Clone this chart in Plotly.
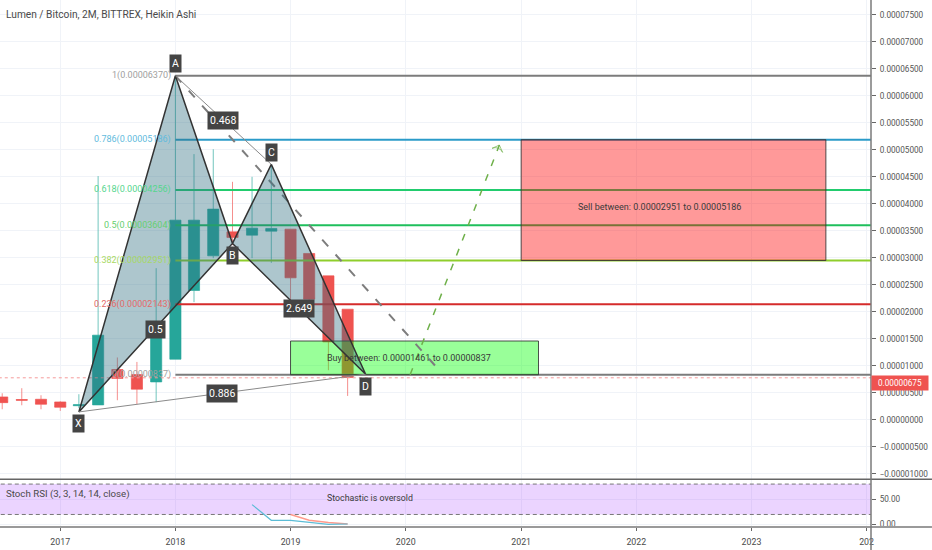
import pandas as pd
import plotly.graph_objects as go

# 2 month Heikin Ashi candles
dates = ["2016-07-01", "2016-09-01", "2016-11-01", "2017-01-01", "2017-03-01", "2017-05-01",
         "2017-07-01", "2017-09-01", "2017-11-01", "2018-01-01", "2018-03-01", "2018-05-01",
         "2018-07-01", "2018-09-01", "2018-11-01", "2019-01-01", "2019-03-01", "2019-05-01",
         "2019-07-01"]
opens = [0.00000426, 0.00000378, 0.00000383, 0.00000333, 0.00000263, 0.00000278,
         0.00000933, 0.00000840, 0.00000704, 0.00001124, 0.00002396, 0.00003037,
         0.00003481, 0.00003420, 0.00003494, 0.00003531, 0.00003081, 0.00002667,
         0.00002050]
highs = [0.00000494, 0.00000587, 0.00000457, 0.00000346, 0.00000476, 0.00004513,
         0.00001156, 0.00001074, 0.00002809, 0.00006370, 0.00004920, 0.00005010,
         0.00004407, 0.00004500, 0.00004717, 0.00003531, 0.00003081, 0.00002667,
         0.00002050]
lows = [0.00000198, 0.00000272, 0.00000198, 0.00000167, 0.00000217, 0.00000278,
        0.00000365, 0.00000291, 0.00000328, 0.00001124, 0.00002180, 0.00002994,
        0.00003235, 0.00002994, 0.00002907, 0.00002124, 0.00001846, 0.00000920,
        0.00000444]
closes = [0.00000320, 0.00000365, 0.00000290, 0.00000235, 0.00000281, 0.00001569,
          0.00000767, 0.00000569, 0.00001537, 0.00003698, 0.00003698, 0.00003902,
          0.00003378, 0.00003550, 0.00003544, 0.00002630, 0.00002235, 0.00001444,
          0.00000785]

# harmonic pattern
xabcd_names = ["X", "A", "B", "C", "D"]
xabcd_dates = ["2017-03-01", "2018-01-01", "2018-07-01", "2018-11-01", "2019-08-27"]
xabcd_vals = [0.00000148, 0.00006370, 0.00003267, 0.00004730, 0.00000846]

# fib retracement
fib_names = ["1", "0.786", "0.618", "0.5", "0.382", "0.236", "0"]
fib_vals = [0.00006370, 0.00005186, 0.00004256, 0.00003604, 0.00002951, 0.00002143, 0.00000837]
fib_line_colors = ["#7c7c7c", "#2b9bc9", "#22cc6e", "#1fbf5c", "#8fce2c", "#d52b2b", "#7c7c7c"]
fib_text_colors = ["#a0a0a0", "#62bbdd", "#55d68e", "#66cf70", "#a8d964", "#e46a6a", "#a0a0a0"]

# projections
gray_dash_dates = ["2018-01-01", "2020-04-24"]
gray_dash_vals = [0.00006370, 0.00000870]
green_dash_dates = ["2020-01-15", "2020-10-24"]
green_dash_vals = [0.00000837, 0.00005087]

# buy / sell boxes
sell_dates = ["2021-01-01", "2023-08-25"]
sell_vals = [0.00002951, 0.00005186]
buy_dates = ["2019-01-01", "2021-02-25"]
buy_vals = [0.00000837, 0.00001461]

price_line = 0.00000780
last_price = 0.00000675

# stoch rsi
k_dates = ["2018-09-01", "2018-11-01", "2019-01-01", "2019-03-01", "2019-05-01", "2019-07-01"]
k_vals = [39.5, 8.5, 8.5, 5.1, 0.6, 1.2]
d_dates = ["2019-01-01", "2019-03-01", "2019-05-01", "2019-07-01"]
d_vals = [19.8, 8.5, 4.0, 1.2]
stoch_band = [20, 80]

tick_years = ["2017-01-01", "2018-01-01", "2019-01-01", "2020-01-01", "2021-01-01",
              "2022-01-01", "2023-01-01", "2024-01-01"]
tick_labels = ["2017", "2018", "2019", "2020", "2021", "2022", "2023", "202"]
price_ticks = [i * 0.000005 for i in range(-2, 16)]

FONT = "Roboto"
GRID = "#f0f3f8"
PLOT_W = 871
PLOT_H = 526.7
H_MAIN_BOTTOM = 479


def date_mid(a, b):
    a, b = pd.Timestamp(a), pd.Timestamp(b)
    return a + (b - a) / 2


fig = go.Figure()

fig.add_trace(go.Candlestick(
    x=dates, open=opens, high=highs, low=lows, close=closes,
    increasing=dict(line=dict(color="rgba(38,166,154,0.65)", width=1), fillcolor="#26a69a"),
    decreasing=dict(line=dict(color="rgba(239,83,80,0.65)", width=1), fillcolor="#ef5350"),
    whiskerwidth=0, hoverinfo="skip", xaxis="x", yaxis="y",
))

# price line
fig.add_trace(go.Scatter(
    x=["2016-01-01", "2025-01-01"], y=[price_line, price_line], mode="lines",
    line=dict(color="#f59a9a", width=1, dash="dot"),
))

for v, c in zip(fib_vals, fib_line_colors):
    fig.add_trace(go.Scatter(
        x=["2018-01-01", "2025-01-01"], y=[v, v], mode="lines",
        line=dict(color=c, width=2),
    ))

# boxes go over the fib lines
for xs, ys, col in [(sell_dates, sell_vals, "rgba(255,0,0,0.4)"),
                    (buy_dates, buy_vals, "rgba(0,255,0,0.4)")]:
    fig.add_trace(go.Scatter(
        x=[xs[0], xs[1], xs[1], xs[0], xs[0]],
        y=[ys[0], ys[0], ys[1], ys[1], ys[0]],
        mode="lines", fill="toself", fillcolor=col,
        line=dict(color="rgba(50,50,50,0.85)", width=1),
    ))

fig.add_trace(go.Scatter(
    x=gray_dash_dates, y=gray_dash_vals, mode="lines",
    line=dict(color="#7d7d7d", width=2, dash="9px,11px"),
))
fig.add_trace(go.Scatter(
    x=green_dash_dates, y=green_dash_vals, mode="lines+markers",
    line=dict(color="#6fb04a", width=1.5, dash="7px,9px"),
    marker=dict(symbol="arrow-wide-open", size=[0, 8], angleref="previous",
                color="#6fb04a", line=dict(color="#6fb04a", width=1)),
))

# XAB and BCD triangles
for i in [0, 2]:
    idx = [i, i + 1, i + 2, i]
    fig.add_trace(go.Scatter(
        x=[xabcd_dates[j] for j in idx], y=[xabcd_vals[j] for j in idx],
        mode="lines", fill="toself", fillcolor="rgba(50,112,130,0.4)",
        line=dict(color="#333333", width=1.5),
    ))
# thin legs A-C and X-D
for a, b in [(1, 3), (0, 4)]:
    fig.add_trace(go.Scatter(
        x=[xabcd_dates[a], xabcd_dates[b]], y=[xabcd_vals[a], xabcd_vals[b]],
        mode="lines", line=dict(color="#8a8a8a", width=1),
    ))

# stoch pane
for level in stoch_band:
    fig.add_trace(go.Scatter(
        x=["2016-01-01", "2025-01-01"], y=[level, level], mode="lines",
        line=dict(color="#787878", width=1, dash="4px,3px"), yaxis="y2",
        fill="tonexty" if level == stoch_band[1] else None,
        fillcolor="rgba(156,39,255,0.2)",
    ))
fig.add_trace(go.Scatter(x=d_dates, y=d_vals, mode="lines", yaxis="y2",
                         line=dict(color="#ff9a8c", width=1.5)))
fig.add_trace(go.Scatter(x=k_dates, y=k_vals, mode="lines", yaxis="y2",
                         line=dict(color="#5bbcd6", width=1.2)))

annotations = []


def badge(x, y, text, yshift=0):
    annotations.append(dict(
        x=x, y=y, xref="x", yref="y", text=text, showarrow=False, yshift=yshift,
        font=dict(family=FONT, size=10.5, color="white"),
        bgcolor="#444444", borderpad=2,
    ))


for name, d, v, shift in zip(xabcd_names, xabcd_dates, xabcd_vals, [-12, 12, -12, 12, -12]):
    badge(d, v, name, shift)

badge(date_mid(xabcd_dates[1], xabcd_dates[3]), (xabcd_vals[1] + xabcd_vals[3]) / 2, "0.468")
badge(date_mid(xabcd_dates[0], xabcd_dates[2]), (xabcd_vals[0] + xabcd_vals[2]) / 2, "0.5", -2)
badge(date_mid(xabcd_dates[2], xabcd_dates[4]), (xabcd_vals[2] + xabcd_vals[4]) / 2, "2.649")
badge(date_mid(xabcd_dates[0], xabcd_dates[4]), (xabcd_vals[0] + xabcd_vals[4]) / 2, "0.886")

for name, v, c in zip(fib_names, fib_vals, fib_text_colors):
    annotations.append(dict(
        x="2018-01-01", y=v, xref="x", yref="y", xanchor="right", xshift=-2,
        text=f"{name}({v:.8f})", showarrow=False,
        font=dict(family=FONT, size=9, color=c),
    ))

annotations.append(dict(
    x="2022-03-14", y=0.00003939, xref="x", yref="y", showarrow=False,
    text="Sell between: 0.00002951 to 0.00005186",
    font=dict(family=FONT, size=9, color="#3a3a3a"),
))
annotations.append(dict(
    x="2020-01-12", y=0.00001143, xref="x", yref="y", showarrow=False,
    text="Buy between: 0.00001461 to 0.00000837",
    font=dict(family=FONT, size=9, color="#3a3a3a"),
))
annotations.append(dict(
    x=1, y=last_price, xref="paper", yref="y", xanchor="left", showarrow=False,
    text=f"{last_price:.8f}", bgcolor="#ef5350", borderpad=1, width=54, height=12,
    font=dict(family=FONT, size=8.2, color="white"),
))
annotations.append(dict(
    x=4 / PLOT_W, y=1 - 14 / PLOT_H, xref="paper", yref="paper", xanchor="left", yanchor="middle",
    showarrow=False, text="Lumen / Bitcoin, 2M, BITTREX, Heikin Ashi",
    font=dict(family=FONT, size=10.2, color="#4a4a4a"),
))
annotations.append(dict(
    x=4 / PLOT_W, y=1 - 494 / PLOT_H, xref="paper", yref="paper", xanchor="left", yanchor="middle",
    showarrow=False, text="Stoch RSI (3, 3, 14, 14, close)",
    font=dict(family=FONT, size=9.7, color="#4a4a4a"),
))
annotations.append(dict(
    x="2019-09-10", y=52.6, xref="x", yref="y2", showarrow=False,
    text="Stochastic is oversold",
    font=dict(family=FONT, size=8.8, color="#3a3a3a"),
))

fig.update_layout(
    width=932, height=550, margin=dict(l=0, r=61, t=0, b=23.3, pad=0, autoexpand=False),
    paper_bgcolor="white", plot_bgcolor="white", showlegend=False, hovermode=False,
    boxgap=0.4, boxgroupgap=0, annotations=annotations,
    xaxis=dict(
        type="date", range=["2016-06-24", "2024-01-15"], anchor="y2",
        rangeslider=dict(visible=False), tickvals=tick_years, ticktext=tick_labels,
        ticks="outside", ticklen=3, tickcolor="#666666", showgrid=True, gridcolor=GRID,
        zeroline=False, showline=False, tickangle=0, ticklabelstandoff=3,
        tickfont=dict(family=FONT, size=8.8, color="#4a4a4a"),
    ),
    yaxis=dict(
        domain=[(PLOT_H - H_MAIN_BOTTOM) / PLOT_H, 1], side="right", anchor="x",
        range=[-0.00001098, 0.00007772], tickvals=price_ticks, tickformat=".8f",
        ticks="outside", ticklen=4, tickcolor="#666666", gridcolor=GRID, zeroline=False,
        showline=False, ticklabelstandoff=2, tickfont=dict(family=FONT, size=8.2, color="#555555"),
    ),
    yaxis2=dict(
        domain=[0, 46.7 / PLOT_H], side="right", anchor="x",
        range=[-4.7, 87.5], tickvals=[0, 50], tickformat=".2f",
        ticks="outside", ticklen=4, tickcolor="#666666", gridcolor=GRID, zeroline=False,
        showline=False, ticklabelstandoff=2, tickfont=dict(family=FONT, size=8.2, color="#555555"),
    ),
    shapes=[
        dict(type="line", xref="paper", yref="paper", x0=0, x1=1.07, y0=1 - 479 / PLOT_H, y1=1 - 479 / PLOT_H,
             line=dict(color="#666666", width=1.5)),
        dict(type="line", xref="paper", yref="paper", x0=0, x1=1.07, y0=0, y1=0,
             line=dict(color="#9a9a9a", width=2)),
        dict(type="line", xref="paper", yref="paper", x0=1, x1=1, y0=-0.05, y1=1,
             line=dict(color="#7a7a7a", width=1.5)),
    ],
)

# page default body margin would push the figure 8px off
fig.write_html("out.html", config={"displayModeBar": False},
               post_script="document.body.style.margin='0';")
